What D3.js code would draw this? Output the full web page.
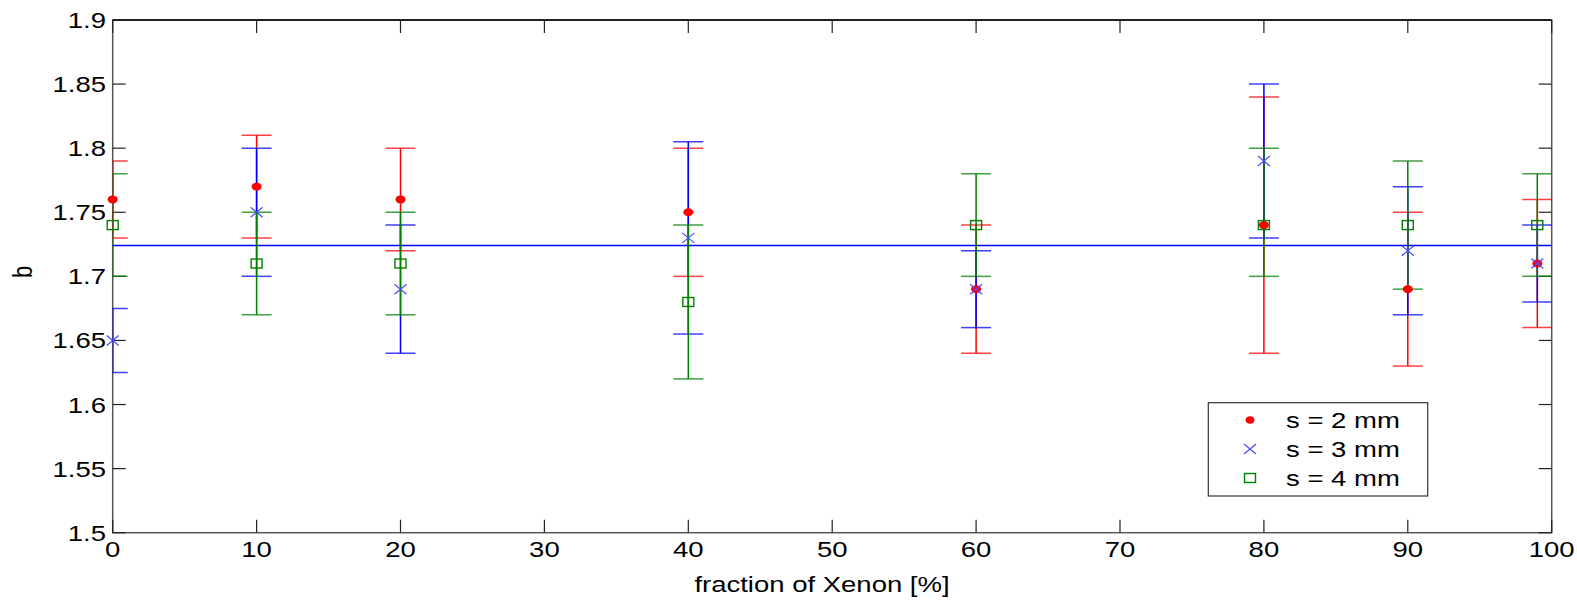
<!DOCTYPE html>
<html>
<head>
<meta charset="utf-8">
<script src="https://cdn.jsdelivr.net/npm/d3@7"></script>
<style>
  html, body { margin: 0; padding: 0; background: #fff; }
  svg { display: block; }
  text { font-family: "Liberation Sans", Arial, sans-serif; fill: #000; }
</style>
</head>
<body>
<svg id="chart" width="1577" height="600"></svg>
<script>
// ---- data ----
const xValues = [0, 10, 20, 40, 60, 80, 90, 99];
// s = 2 mm
const b2  = [1.76, 1.77, 1.76, 1.75, 1.69, 1.74, 1.69, 1.71];
const lo2 = [1.73, 1.73, 1.72, 1.70, 1.64, 1.64, 1.63, 1.66];
const hi2 = [1.79, 1.81, 1.80, 1.80, 1.74, 1.84, 1.75, 1.76];
// s = 3 mm
const b3  = [1.65, 1.75, 1.69, 1.73, 1.69, 1.79, 1.72, 1.71];
const lo3 = [1.625, 1.70, 1.64, 1.655, 1.66, 1.73, 1.67, 1.68];
const hi3 = [1.675, 1.80, 1.74, 1.805, 1.72, 1.85, 1.77, 1.74];
// s = 4 mm
const b4  = [1.74, 1.71, 1.71, 1.68, 1.74, 1.74, 1.74, 1.74];
const lo4 = [1.70, 1.67, 1.67, 1.62, 1.70, 1.70, 1.69, 1.70];
const hi4 = [1.78, 1.75, 1.75, 1.74, 1.78, 1.80, 1.79, 1.78];
const meanB = 1.724;
const seriesNames = ["s = 2 mm", "s = 3 mm", "s = 4 mm"];
const xTicks = [0, 10, 20, 30, 40, 50, 60, 70, 80, 90, 100];
const yTicks = [1.5, 1.55, 1.6, 1.65, 1.7, 1.75, 1.8, 1.85, 1.9];
const yTickLabels = ["1.5", "1.55", "1.6", "1.65", "1.7", "1.75", "1.8", "1.85", "1.9"];
const xLabel = "fraction of Xenon [%]";
const yLabel = "b";

// ---- layout ----
const L = 112.7, R = 1551.7, T = 20, B = 532.7;
const SX = 1.25, FS = 22;
const x = d3.scaleLinear().domain([0, 100]).range([L, R]);
const y = d3.scaleLinear().domain([1.5, 1.9]).range([B, T]);
const colors = ["#ff0000", "#0000ff", "#008000"];

const svg = d3.select("#chart");
svg.append("defs").append("clipPath").attr("id", "clip")
  .append("rect").attr("x", L).attr("y", T).attr("width", R - L).attr("height", B - T);

function label(px, py, txt, anchor) {
  return svg.append("text")
    .attr("transform", `translate(${px},${py}) scale(${SX},1)`)
    .attr("text-anchor", anchor)
    .attr("font-size", FS)
    .text(txt);
}

// frame
svg.append("rect").attr("x", L).attr("y", T).attr("width", R - L).attr("height", B - T)
  .attr("fill", "none").attr("stroke", "#555").attr("stroke-width", 1.5);
svg.append("line").attr("x1", L).attr("x2", R).attr("y1", T).attr("y2", T)
  .attr("stroke", "#000").attr("stroke-width", 1.5);

// ticks
const tl = 13;
const tg = svg.append("g").attr("stroke", "#222").attr("stroke-width", 1.2);
xTicks.forEach(v => {
  tg.append("line").attr("x1", x(v)).attr("x2", x(v)).attr("y1", B).attr("y2", B - tl);
  tg.append("line").attr("x1", x(v)).attr("x2", x(v)).attr("y1", T).attr("y2", T + tl);
});
yTicks.forEach(v => {
  tg.append("line").attr("x1", L).attr("x2", L + tl).attr("y1", y(v)).attr("y2", y(v));
  tg.append("line").attr("x1", R).attr("x2", R - tl).attr("y1", y(v)).attr("y2", y(v));
});
xTicks.forEach(v => label(x(v), 557, String(v), "middle"));
yTicks.forEach((v, i) => label(106, y(v) + 8, yTickLabels[i], "end"));

// axis labels
label(822, 592, xLabel, "middle");
svg.append("text")
  .attr("transform", `translate(32,272) rotate(-90) scale(1,${SX})`)
  .attr("text-anchor", "middle").attr("font-size", FS).text(yLabel);

// mean line
svg.append("line").attr("x1", x(0)).attr("x2", x(100)).attr("y1", y(meanB)).attr("y2", y(meanB))
  .attr("stroke", "#0000ff").attr("stroke-width", 1.5);

// error bars
const series = [
  { v: b2, lo: lo2, hi: hi2 },
  { v: b3, lo: lo3, hi: hi3 },
  { v: b4, lo: lo4, hi: hi4 }
];
const cap = 15;
const eg = svg.append("g").attr("clip-path", "url(#clip)");
series.forEach((s, si) => {
  const g = eg.append("g").attr("stroke", colors[si]);
  xValues.forEach((xv, i) => {
    g.append("line").attr("x1", x(xv)).attr("x2", x(xv)).attr("y1", y(s.lo[i])).attr("y2", y(s.hi[i]))
      .attr("stroke-width", 1.5);
    [s.lo[i], s.hi[i]].forEach(e => {
      g.append("line").attr("x1", x(xv) - cap).attr("x2", x(xv) + cap).attr("y1", y(e)).attr("y2", y(e))
        .attr("stroke-width", 1.5).attr("stroke-opacity", 0.75);
    });
  });
});

// markers
function drawMarker(g, si, cx, cy) {
  if (si === 0) {
    g.append("ellipse").attr("cx", cx).attr("cy", cy).attr("rx", 5).attr("ry", 4)
      .attr("fill", colors[0]);
  } else if (si === 1) {
    g.append("path").attr("d", `M${cx-6},${cy-5}L${cx+6},${cy+5}M${cx-6},${cy+5}L${cx+6},${cy-5}`)
      .attr("stroke", "#4a4aff").attr("stroke-width", 1.2).attr("fill", "none");
  } else {
    g.append("rect").attr("x", cx - 5.5).attr("y", cy - 4.5).attr("width", 11).attr("height", 9)
      .attr("stroke", colors[2]).attr("stroke-width", 1.4).attr("fill", "none");
  }
}
const mg = svg.append("g");
series.forEach((s, si) => {
  xValues.forEach((xv, i) => drawMarker(mg, si, x(xv), y(s.v[i])));
});

// legend
const lg = svg.append("g");
lg.append("rect").attr("x", 1208.3).attr("y", 402.7).attr("width", 219.4).attr("height", 93.3)
  .attr("fill", "#fff").attr("stroke", "#333").attr("stroke-width", 1.2);
const rowsY = [420, 449, 478];
seriesNames.forEach((n, si) => {
  const ry = rowsY[si];
  if (si === 0) {
    lg.append("ellipse").attr("cx", 1250).attr("cy", ry).attr("rx", 4.5).attr("ry", 3.8).attr("fill", colors[0]);
  } else {
    drawMarker(lg, si, 1250, ry);
  }
  svg.append("text")
    .attr("transform", `translate(1286,${ry + 8}) scale(${SX},1)`)
    .attr("font-size", FS).text(n);
});
</script>
</body>
</html>
